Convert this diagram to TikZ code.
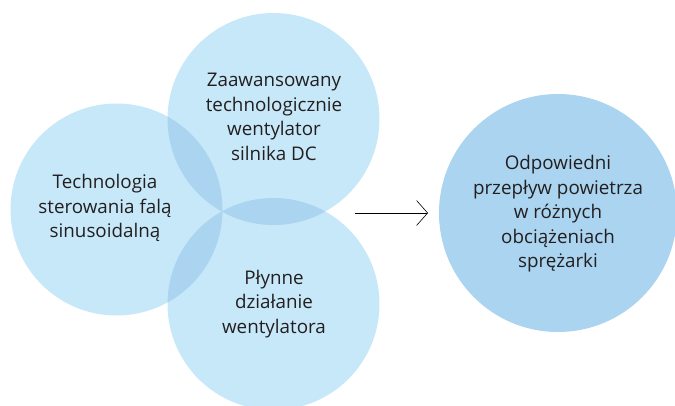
\documentclass[tikz,border=0pt]{standalone}
\usepackage{fontspec}
\setmainfont{Open Sans}
\usetikzlibrary{arrows.meta}
\definecolor{lightblue}{HTML}{C7E8F8}
\definecolor{midblue}{HTML}{AAD4EF}
\definecolor{textdark}{HTML}{231F20}
\begin{document}
\begin{tikzpicture}[x=1pt,y=-1pt,
  bubble/.style={circle,fill=lightblue,inner sep=0pt,minimum size=212pt},
  bigbubble/.style={circle,fill=midblue,inner sep=0pt,minimum size=238pt},
  label/.style={align=center,text=textdark,font=\fontsize{18.8}{24.5}\selectfont},
  flow/.style={draw=black,line width=0.7pt,-{Straight Barb[length=11pt,width=25pt,line width=0.6pt]}}]
\useasboundingbox (0,0) rectangle (675,405);
% three overlapping circles
\node[bubble] (top) at (273.5,119) {};
\node[bubble] (left) at (116.5,209.5) {};
\node[bubble] (bottom) at (273.5,304) {};
% darker lens shapes where the circles overlap
\begin{scope}
  \clip (273.5,119) circle (106);
  \fill[midblue] (116.5,209.5) circle (106);
  \fill[midblue] (273.5,304) circle (106);
\end{scope}
\begin{scope}
  \clip (116.5,209.5) circle (106);
  \fill[midblue] (273.5,304) circle (106);
\end{scope}
% result circle
\node[bigbubble] (result) at (558,213) {};
% labels
\node[label] (ttop) at (274,117) {Zaawansowany\\technologicznie\\wentylator\\silnika DC};
\node[label] (tleft) at (105,208) {Technologia\\sterowania falą\\sinusoidalną};
\node[label] (tbottom) at (274,304) {Płynne\\działanie\\wentylatora};
\node[label] (tresult) at (558,214) {Odpowiedni\\przepływ powietrza\\w różnych\\obciążeniach\\sprężarki};
% arrow
\coordinate (astart) at (355,213);
\coordinate (aend) at (428,213);
\draw[flow] (astart) -- (aend);
\end{tikzpicture}
\end{document}
